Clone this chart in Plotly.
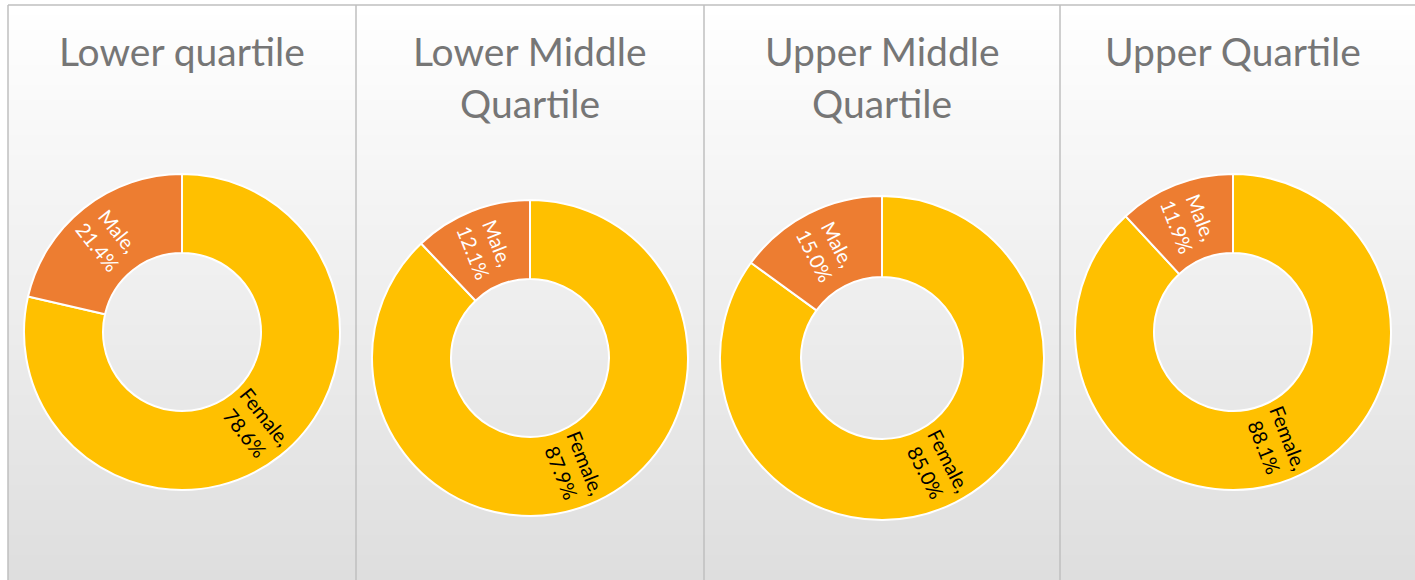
import math
import plotly.graph_objects as go

W, H = 1415, 580

# ---- data ----
quartiles = ["Lower quartile", "Lower Middle<br>Quartile", "Upper Middle<br>Quartile", "Upper Quartile"]
genders = ["Female", "Male"]
female_pct = [78.6, 87.9, 85.0, 88.1]
male_pct = [21.4, 12.1, 15.0, 11.9]

# ---- layout (pixels) ----
centers = [(182, 332), (530, 358), (882, 358), (1233, 332)]
radii = [158, 158, 162, 158]
HOLE = 0.5
panel_edges = [8, 356, 704, 1060]
FONT = "Lato"
colors = ["#FFC000", "#ED7D31"]
label_colors = ["#000000", "#FFFFFF"]
TITLE_TOP = 26
TITLE_LINE = 52

fig = go.Figure()

for i, q in enumerate(quartiles):
    cx, cy = centers[i]
    r = radii[i]
    vals = [female_pct[i], male_pct[i]]
    fig.add_trace(go.Pie(
        labels=genders,
        values=vals,
        textinfo="none",
        hole=HOLE,
        sort=False,
        direction="clockwise",
        rotation=0,
        marker=dict(colors=colors, line=dict(color="#FFFFFF", width=2)),
        domain=dict(x=[(cx - r) / W, (cx + r) / W], y=[1 - (cy + r) / H, 1 - (cy - r) / H]),
        showlegend=False,
        hoverinfo="label+percent",
    ))
    for j, line in enumerate(q.split("<br>")):
        fig.add_annotation(
            x=cx / W, y=1 - (TITLE_TOP + j * TITLE_LINE) / H, xref="paper", yref="paper",
            xanchor="center", yanchor="top", showarrow=False,
            text=line, align="center",
            font=dict(size=39, color="#767676", family=FONT),
        )
    # radial data labels, placed from the slice angles
    total = sum(vals)
    cum = 0.0
    rmid = r * (1 + HOLE) / 2
    for g, v, col in zip(genders, vals, label_colors):
        theta = 360.0 * (cum + v / 2) / total  # clockwise from 12 o'clock
        cum += v
        th = math.radians(theta)
        lx = cx + rmid * math.sin(th)
        ly = cy - rmid * math.cos(th)
        ang = (theta - 90) % 180
        if ang > 90:
            ang -= 180
        fig.add_annotation(
            x=lx / W, y=1 - ly / H, xref="paper", yref="paper",
            xanchor="center", yanchor="middle", showarrow=False,
            text=f"{g},<br>{v:.1f}%", align="center", textangle=ang,
            font=dict(size=20, color=col, family=FONT),
        )

# gradient background bands
shapes = []
top, bottom = 5, H
n = 115
for k in range(n):
    y0 = top + (bottom - top) * k / n
    y1 = top + (bottom - top) * (k + 1) / n + 0.5
    t = (k + 0.5) / n
    c = round(255 - 33 * t)
    shapes.append(dict(type="rect", xref="paper", yref="paper",
                       x0=8 / W, x1=1.0, y0=1 - y1 / H, y1=1 - y0 / H,
                       fillcolor=f"rgb({c},{c},{c})", line=dict(width=0), layer="below"))
# panel borders
shapes.append(dict(type="line", xref="paper", yref="paper", x0=8 / W, x1=1.0,
                   y0=1 - 5 / H, y1=1 - 5 / H, line=dict(color="#BFBFBF", width=1.5), layer="below"))
for e in panel_edges:
    shapes.append(dict(type="line", xref="paper", yref="paper", x0=e / W, x1=e / W,
                       y0=0, y1=1 - 5 / H, line=dict(color="#BFBFBF", width=1.5), layer="below"))

fig.update_layout(
    width=W, height=H,
    margin=dict(l=0, r=0, t=0, b=0),
    paper_bgcolor="#FFFFFF",
    plot_bgcolor="#FFFFFF",
    shapes=shapes,
    font=dict(family=FONT),
)

fig.write_html("out.html", config={"displayModeBar": False},
               post_script="document.body.style.margin='0px';document.body.style.overflow='hidden';")
